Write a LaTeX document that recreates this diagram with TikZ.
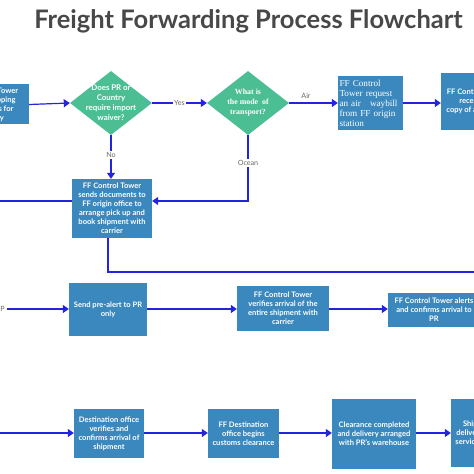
\documentclass[tikz,border=0pt]{standalone}
\usepackage{fontspec}
\setmainfont{Lato}
\newfontfamily\serifbox{Liberation Serif}
\usetikzlibrary{arrows.meta,shapes.geometric}
\definecolor{boxblue}{RGB}{58,136,189}
\definecolor{dgreen}{RGB}{76,190,148}
\definecolor{lineblue}{RGB}{35,35,225}
\definecolor{titlegray}{RGB}{72,72,72}
\definecolor{labelgray}{RGB}{105,105,105}
\tikzset{
  proc/.style={rectangle, fill=boxblue, text=white, align=center, inner sep=1pt,
    font=\bfseries\fontsize{7.6}{9}\selectfont},
  serproc/.style={rectangle, fill=boxblue, text=white, align=left, inner sep=1pt,
    font=\serifbox\fontsize{9.2}{10}\selectfont},
  dec/.style={diamond, fill=dgreen, inner sep=0pt, aspect=1.28},
  dectext/.style={text=white, align=center, inner sep=0pt, font=\bfseries\fontsize{7.9}{10}\selectfont},
  dectextser/.style={text=white, align=center, inner sep=0pt, font=\serifbox\bfseries\fontsize{7.9}{10}\selectfont},
  arr/.style={draw=lineblue, line width=1.2bp, -{Triangle[length=6bp,width=8bp]}},
  ln/.style={draw=lineblue, line width=1.2bp},
  lbl/.style={fill=white, text=labelgray, inner sep=1.5pt, font=\fontsize{7.2}{8}\selectfont},
  ttl/.style={text=titlegray, font=\bfseries\fontsize{25.6}{30}\selectfont}
}
\begin{document}
\begin{tikzpicture}[x=1bp,y=-1bp]
\useasboundingbox (0,0) rectangle (474,474);
\fill[white] (0,0) rectangle (474,474);
\node[ttl] (title) at (248.5,21) {Freight Forwarding Process Flowchart};

% row 1
\node[proc, minimum width=80bp, minimum height=40bp] (b1) at (-11,104.5)
  {FF Control Tower\\checks shipping\\documents for\\accuracy};
\node[dec, minimum width=82bp, minimum height=64bp] (d1) at (111,103) {};
\node[dectext] (d1t) at (d1) {Does PR or\\Country\\require import\\waiver?};
\node[dec, minimum width=82bp, minimum height=64bp] (d2) at (248,103) {};
\node[dectextser] (d2t) at (d2) {What is\\the mode\ \ of\\transport?};
\node[serproc, minimum width=65bp, minimum height=54bp, text width=62bp] (b3) at (370.5,103)
  {FF Control\\Tower request\\an air\ \ \ waybill\\from FF origin\\station};
\node[proc, minimum width=70bp, minimum height=57bp] (b4) at (476,101.5)
  {FF Control Tower\\receives a\\copy of airwaybill};

\draw[arr] (b1.east) -- (d1.west);
\draw[arr] (d1.east) -- node[lbl] (lyes) {Yes} (d2.west);
\draw[arr] (d2.east) -- (b3.west);
\node[lbl] (lair) at (306,96) {Air};
\draw[arr] (b3.east) -- (b4.west |- b3.east);

% row 2
\node[proc, minimum width=80bp, minimum height=59bp] (b5) at (112,208.5)
  {FF Control Tower\\sends documents to\\FF origin office to\\arrange pick up and\\book shipment with\\carrier};
\draw[arr] (d1.south) -- node[lbl, pos=0.45] (lno) {No} (d1.south |- b5.north);
\coordinate (j1) at (248,201);
\draw[arr] (d2.south) -- (j1) -- (j1 -| b5.east);
\node[lbl] (locean) at (248,163) {Ocean};
\coordinate (lin) at (0,201);
\draw[ln] (lin) -- (lin -| b5.west);
\coordinate (b5s) at (108,272);
\coordinate (rout) at (474,272);
\draw[ln] (b5s |- b5.south) -- (b5s) -- (rout);

% row 3
\node[lbl, anchor=east, fill=none, inner sep=0pt] (plbl) at (5,309) {P};
\coordinate (pin) at (7,309);
\node[proc, minimum width=78bp, minimum height=53bp] (b6) at (108,309.5)
  {Send pre-alert to PR\\only};
\node[proc, minimum width=92bp, minimum height=45bp] (b7) at (283,308.5)
  {FF Control Tower\\verifies arrival of the\\entire shipment with\\carrier};
\node[proc, minimum width=92bp, minimum height=34bp] (b8) at (434,310)
  {FF Control Tower alerts\\and confirms arrival to\\PR};
\draw[arr] (pin) -- (pin -| b6.west);
\draw[arr] (b6.east |- pin) -- (pin -| b7.west);
\draw[arr] (b7.east |- pin) -- (pin -| b8.west);

% row 4
\coordinate (qin) at (0,433);
\node[proc, minimum width=70bp, minimum height=49bp] (b9) at (109,433.5)
  {Destination office\\verifies and\\confirms arrival of\\shipment};
\node[proc, minimum width=71bp, minimum height=49bp] (b10) at (243.5,433.5)
  {FF Destination\\office begins\\customs clearance};
\node[proc, minimum width=84bp, minimum height=70bp] (b11) at (374,434)
  {Clearance completed\\and delivery arranged\\with PR's warehouse};
\node[proc, minimum width=56bp, minimum height=68bp] (b12) at (479,433)
  {Shipment\\delivered and\\service closed};
\draw[arr] (qin) -- (qin -| b9.west);
\draw[arr] (b9.east |- qin) -- (qin -| b10.west);
\draw[arr] (b10.east |- qin) -- (qin -| b11.west);
\draw[arr] (b11.east |- qin) -- (qin -| b12.west);
\end{tikzpicture}
\end{document}
